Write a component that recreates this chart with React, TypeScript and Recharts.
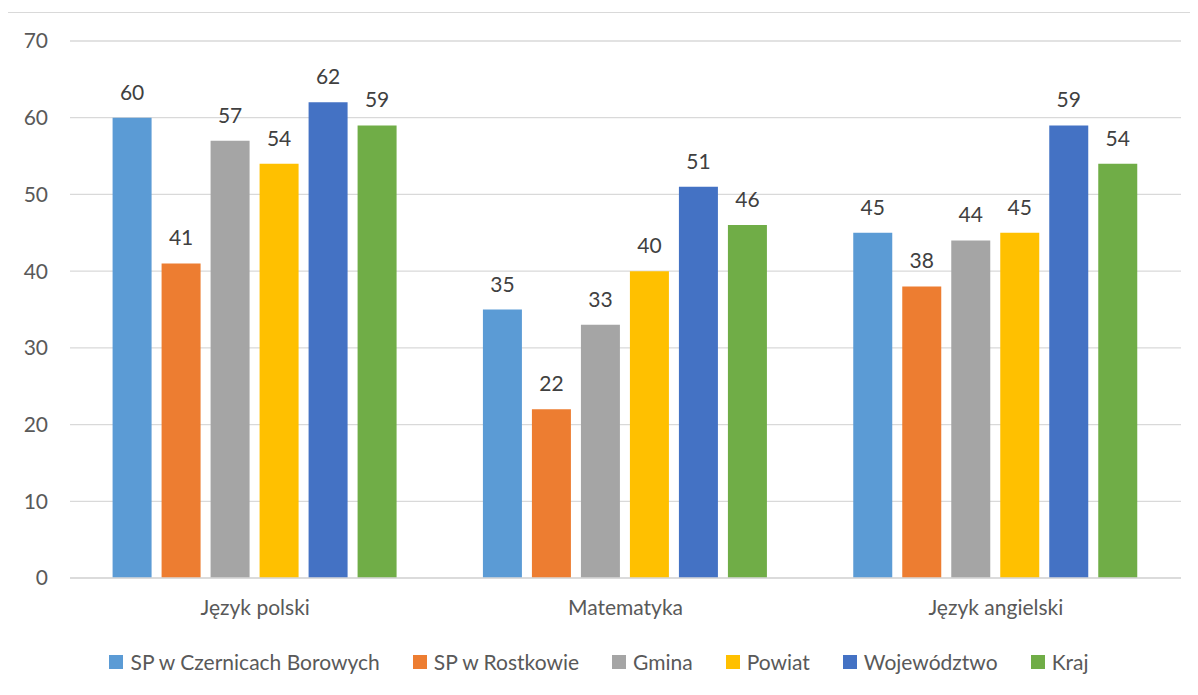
import React from "react";
import { BarChart, Bar, XAxis, YAxis, CartesianGrid, LabelList } from "recharts";

const categories = ["Język polski", "Matematyka", "Język angielski"];
const seriesNames = ["SP w Czernicach Borowych", "SP w Rostkowie", "Gmina", "Powiat", "Województwo", "Kraj"];
const seriesColors = ["#5B9BD5", "#ED7D31", "#A5A5A5", "#FFC000", "#4472C4", "#70AD47"];
const czernice = [60, 35, 45];
const rostkowo = [41, 22, 38];
const gmina = [57, 33, 44];
const powiat = [54, 40, 45];
const wojewodztwo = [62, 51, 59];
const kraj = [59, 46, 54];
const yTicks = [0, 10, 20, 30, 40, 50, 60, 70];

const seriesValues = [czernice, rostkowo, gmina, powiat, wojewodztwo, kraj];
const data = categories.map((c, i) => {
  const row: Record<string, string | number> = { name: c };
  seriesValues.forEach((vals, s) => {
    row["s" + s] = vals[i];
  });
  return row;
});

const FONT = "Lato, 'Open Sans', sans-serif";

export default function App() {
  return (
    <div style={{ position: "relative", width: 1190, height: 687, fontFamily: FONT }}>
      <div
        style={{
          position: "absolute",
          left: -1,
          top: 4,
          width: 1186,
          height: 700,
          border: "1px solid #d9d9d9",
          boxSizing: "border-box",
        }}
      />
      <div style={{ position: "absolute", left: 0, top: 0 }}>
        <BarChart
          width={1182}
          height={630}
          data={data}
          margin={{ top: 33, right: 9, left: 0, bottom: 0 }}
          barCategoryGap="11.5%"
          barGap={10}
        >
          <CartesianGrid vertical={false} stroke="#d9d9d9" strokeWidth={1.3} />
          <XAxis
            dataKey="name"
            height={60}
            axisLine={{ stroke: "#d9d9d9", strokeWidth: 1.3 }}
            tickLine={false}
            tickMargin={16}
            tick={{ fill: "#595959", fontSize: 21, fontFamily: FONT }}
          />
          <YAxis
            width={62}
            domain={[0, 70]}
            ticks={yTicks}
            axisLine={false}
            tickLine={false}
            tickSize={6}
            tickMargin={16}
            tick={{ fill: "#595959", fontSize: 21, fontFamily: FONT }}
          />
          {seriesNames.map((n, s) => (
            <Bar key={n} dataKey={"s" + s} name={n} fill={seriesColors[s]} isAnimationActive={false}>
              <LabelList dataKey={"s" + s} position="top" offset={18} fill="#404040" fontSize={21} fontFamily={FONT} />
            </Bar>
          ))}
        </BarChart>
      </div>
      <div
        style={{
          position: "absolute",
          left: 0,
          top: 641,
          width: 1182,
          display: "flex",
          justifyContent: "center",
          alignItems: "center",
          gap: 33,
          color: "#595959",
          fontSize: 21,
        }}
      >
        {seriesNames.map((n, s) => (
          <div key={n} style={{ display: "flex", alignItems: "center" }}>
            <span style={{ display: "inline-block", width: 14, height: 14, background: seriesColors[s], marginRight: 7 }} />
            <span>{n}</span>
          </div>
        ))}
      </div>
    </div>
  );
}
